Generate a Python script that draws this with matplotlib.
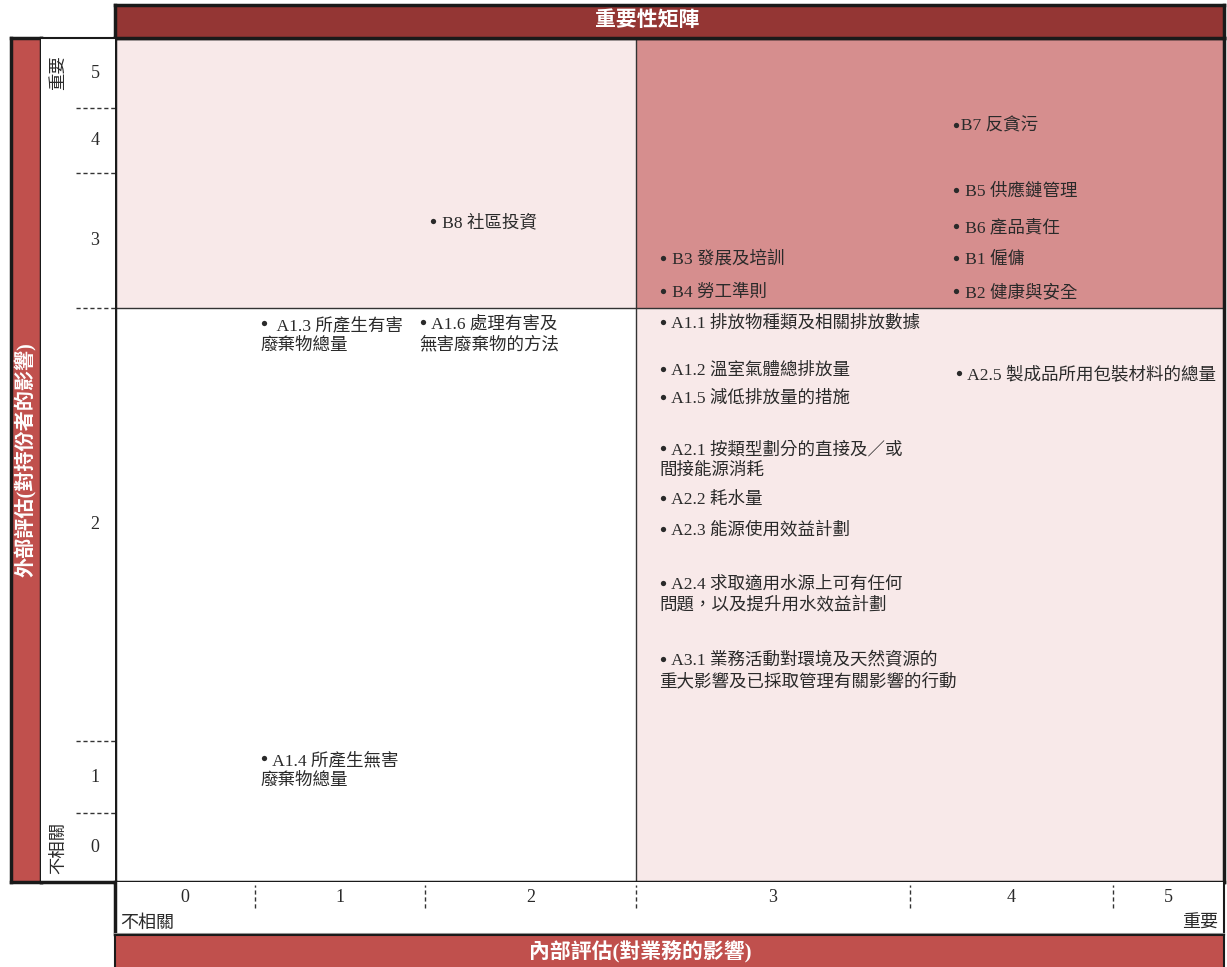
"""
Materiality matrix (重要性矩陣) — internal vs external assessment.
"""

import matplotlib.pyplot as plt
import matplotlib as mpl
from matplotlib.patches import Rectangle

mpl.rcParams.update({
    "font.family": ["Liberation Serif", "Noto Sans CJK TC"],
    "font.size": 12,
})

# ---------- Data ----------
score_labels = ["0", "1", "2", "3", "4", "5"]
# band edges of each score on the matrix (x: internal, y: external, top = 5)
x_edges = [0, 140, 310, 521, 795, 998, 1109]
y_edges = [0, 70, 135, 270, 703, 775, 844]
y_scores = ["5", "4", "3", "2", "1", "0"]

item_labels = [
    "• B8 社區投資",
    "•B7 反貪污",
    "• B5 供應鏈管理",
    "• B6 產品責任",
    "• B1 僱傭",
    "• B2 健康與安全",
    "• B3 發展及培訓",
    "• B4 勞工準則",
    "•  A1.3 所產生有害\n廢棄物總量",
    "• A1.6 處理有害及\n無害廢棄物的方法",
    "• A1.4 所產生無害\n廢棄物總量",
    "• A1.1 排放物種類及相關排放數據",
    "• A1.2 溫室氣體總排放量",
    "• A1.5 減低排放量的措施",
    "• A2.1 按類型劃分的直接及／或\n間接能源消耗",
    "• A2.2 耗水量",
    "• A2.3 能源使用效益計劃",
    "• A2.4 求取適用水源上可有任何\n問題，以及提升用水效益計劃",
    "• A3.1 業務活動對環境及天然資源的\n重大影響及已採取管理有關影響的行動",
    "• A2.5 製成品所用包裝材料的總量",
]
# position of the bullet (x) and of the first text line (y)
item_x = [314, 837, 837, 837, 837, 837, 544, 544, 145, 304, 145,
          544, 544, 544, 544, 544, 544, 544, 544, 840]
item_y = [183, 87, 152, 188, 220, 253, 220, 253, 285, 284, 720,
          284, 331, 359, 410, 460, 491, 545, 621, 335]

TITLE = "重要性矩陣"
X_TITLE = "內部評估(對業務的影響)"
Y_TITLE = "外部評估(對持份者的影響)"
LOW, HIGH = "不相關", "重要"

# ---------- Style ----------
W, H = 1227, 967
DARK_RED = "#943634"
RED = "#c0504d"
PINK = "#d68e8e"
LIGHT_PINK = "#f8e9e9"
TEXT = "#2a2a2a"
LINE_STEP = 21      # px between text lines of one item


def px_axes(fig, x0, y0, x1, y1):
    return fig.add_axes([x0 / W, 1 - y1 / H, (x1 - x0) / W, (y1 - y0) / H])


def bare(ax, lw=2.0):
    ax.set_xticks([])
    ax.set_yticks([])
    for s in ax.spines.values():
        s.set_linewidth(lw)
        s.set_color("#1a1a1a")


fig = plt.figure(figsize=(W / 100, H / 100), dpi=100)

# ---------- Main matrix ----------
ax = px_axes(fig, 115, 38, 1224, 882)
ax.set_xlim(x_edges[0], x_edges[-1])
ax.set_ylim(y_edges[-1], y_edges[0])
bare(ax, 2.5)
xm, ym = x_edges[3], y_edges[3]
ax.add_patch(Rectangle((0, 0), xm, ym, color=LIGHT_PINK, lw=0, zorder=0))
ax.add_patch(Rectangle((xm, 0), x_edges[-1] - xm, ym, color=PINK, lw=0, zorder=0))
ax.add_patch(Rectangle((xm, ym), x_edges[-1] - xm, y_edges[-1] - ym,
                       color=LIGHT_PINK, lw=0, zorder=0))
ax.axvline(xm, color="#333", lw=1.0)
ax.axhline(ym, color="#333", lw=1.0)

# bullet drawn as a marker (bigger than the font glyph), text after it.
# va="baseline" pins the last line, so shift multi-line items down.
for lab, x, y in zip(item_labels, item_x, item_y):
    body = lab.replace("• ", "   ").replace("•", "  ")
    n_extra = body.count("\n")
    ax.text(x, y + 6 + n_extra * LINE_STEP, body, ha="left", va="baseline",
            fontsize=12.6, color=TEXT, linespacing=1.31)
    ax.plot(x + 3.5, y, "o", ms=3.8, color=TEXT, mec="none")

# ---------- Top title bar ----------
axt = px_axes(fig, 115, 5, 1224, 38)
axt.set_facecolor(DARK_RED)
bare(axt, 2.5)
axt.text(0.48, 0.5, TITLE, transform=axt.transAxes, ha="center", va="center",
         color="white", fontsize=15, fontweight="bold")

# ---------- Left: y title bar ----------
axl = px_axes(fig, 11, 38, 41, 882)
axl.set_facecolor(RED)
bare(axl, 2.5)
axl.text(0.5, 0.5, Y_TITLE, transform=axl.transAxes, rotation=90,
         ha="center", va="center", color="white", fontsize=14.5,
         fontweight="bold")

# ---------- Left: y score column ----------
axy = px_axes(fig, 41, 38, 115, 882)
axy.set_ylim(y_edges[-1], y_edges[0])
axy.set_xlim(0, 1)
bare(axy, 1.5)
axy.spines["left"].set_visible(False)
axy.spines["right"].set_visible(False)
axy.spines["bottom"].set_linewidth(2.5)
for y in y_edges[1:-1]:
    axy.plot([0.47, 1.0], [y, y], color="#333", lw=1.0, ls=(0, (3, 2)))
y_centers = [(a + b) / 2 for a, b in zip(y_edges[:-1], y_edges[1:])]
for lab, yc in zip(y_scores, y_centers):
    axy.text(0.73, yc, lab, ha="center", va="center", fontsize=13, color=TEXT)
axy.text(0.25, y_centers[0], HIGH, rotation=90, ha="center", va="center",
         fontsize=12.5, color=TEXT)
axy.text(0.25, y_centers[-1], LOW, rotation=90, ha="center", va="center",
         fontsize=12.5, color=TEXT)

# ---------- Bottom: x score row ----------
axx = px_axes(fig, 115, 882, 1224, 934)
axx.set_xlim(x_edges[0], x_edges[-1])
axx.set_ylim(0, 1)
bare(axx, 1.5)
axx.spines["top"].set_visible(False)
axx.spines["left"].set_linewidth(2.5)
axx.spines["bottom"].set_color("#999")
for x in x_edges[1:-1]:
    axx.plot([x, x], [0.5, 0.94], color="#333", lw=1.0, ls=(0, (3, 2)))
x_centers = [(a + b) / 2 for a, b in zip(x_edges[:-1], x_edges[1:])]
for lab, xc in zip(score_labels, x_centers):
    axx.text(xc, 0.71, lab, ha="center", va="center", fontsize=13, color=TEXT)
axx.text(x_edges[0] + 5, 0.2, LOW, ha="left", va="center", fontsize=13,
         color=TEXT)
axx.text(x_edges[-1] - 6, 0.2, HIGH, ha="right", va="center", fontsize=13,
         color=TEXT)

# ---------- Bottom: x title bar ----------
axb = px_axes(fig, 115, 935, 1224, 967)
axb.set_facecolor(RED)
bare(axb, 1.5)
axb.spines["bottom"].set_visible(False)
axb.text(0.474, 0.5, X_TITLE, transform=axb.transAxes, ha="center",
         va="center", color="white", fontsize=15, fontweight="bold")

fig.savefig("out.png", dpi=100)
